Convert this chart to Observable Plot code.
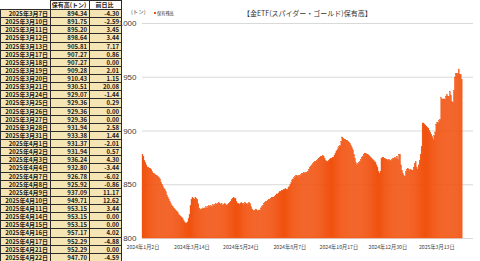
<!DOCTYPE html>
<html><head><meta charset="utf-8">
<script src="https://cdn.jsdelivr.net/npm/d3@7"></script>
<script src="https://cdn.jsdelivr.net/npm/@observablehq/plot@0.6"></script>
<style>
body{margin:0;width:480px;height:261px;overflow:hidden;background:#fff;position:relative;font-family:"Noto Sans CJK JP","Noto Sans",sans-serif;}
.cell{position:absolute;box-sizing:border-box;font-size:6px;line-height:7.5px;text-align:right;white-space:nowrap;overflow:hidden;color:#1a1a1a;font-weight:bold;padding-right:2px;}
#chart{position:absolute;left:121px;top:0;width:359px;height:261px;}
#chart svg{position:absolute;left:0;top:0;}
.lbl{position:absolute;white-space:nowrap;color:#404040;}
</style></head>
<body>
<div id="tbl"></div>
<div id="chart"></div>
<script>
// ---- data ----
const tableDates = ["2025年3月7日","2025年3月10日","2025年3月11日","2025年3月12日","2025年3月13日","2025年3月17日","2025年3月18日","2025年3月19日","2025年3月20日","2025年3月21日","2025年3月24日","2025年3月25日","2025年3月26日","2025年3月27日","2025年3月28日","2025年3月31日","2025年4月1日","2025年4月2日","2025年4月3日","2025年4月4日","2025年4月7日","2025年4月8日","2025年4月9日","2025年4月10日","2025年4月11日","2025年4月14日","2025年4月15日","2025年4月16日","2025年4月17日","2025年4月21日","2025年4月22日"];
const tableHold = [894.34,891.75,895.20,898.64,905.81,907.27,907.27,909.28,910.43,930.51,929.07,929.36,929.36,929.36,931.94,933.38,931.37,931.94,936.24,932.80,926.78,925.92,937.09,949.71,953.15,953.15,953.15,957.17,952.29,952.29,947.70];
const tableChg = [-4.30,-2.59,3.45,3.44,7.17,0.86,0.00,2.01,1.15,20.08,-1.44,0.29,0.00,0.00,2.58,1.44,-2.01,0.57,4.30,-3.44,-6.02,-0.86,11.17,12.62,3.44,0.00,0.00,4.02,-4.88,0.00,-4.59];
const earlierHold = [
878,876,872,870,868,866,866,865,865,864,862,860,860,859,858,858,857,856,
855,852,850,848,846,845,843,
840,838,836,834,832,830,829,828,827,826,825,
824,822,821,820,819,818,816,815,814,814,
815,818,822,
830,836,838,837,836,838,837,836,
832,828,826,
827,827,828,827,828,829,828,829,830,829,
830,829,831,830,831,832,831,832,
833,832,831,832,830,831,832,831,830,831,
832,833,834,836,837,838,837,837,
834,832,832,
831,832,833,832,831,832,833,832,831,832,833,832,
829,827,826,
825,826,827,826,825,826,826,
828,829,830,832,833,834,834,
835,836,836,837,838,838,838,
839,840,841,841,842,843,843,
844,844,845,845,846,845,845,
847,848,850,852,854,855,856,857,858,858,
857,858,858,859,860,860,861,860,861,861,
862,864,866,867,868,869,870,871,871,
872,873,874,875,876,876,877,876,
874,872,871,871,
872,873,874,874,875,875,
877,879,881,882,884,885,886,
890,894,
893,892,892,891,891,
890,889,888,
886,884,882,
878,874,870,868,
869,870,871,
873,875,876,878,879,879,
878,878,877,876,875,
874,873,872,871,870,
868,866,862,860,
862,874,875,875,
874,874,873,873,872,873,872,
872,873,874,874,875,
874,876,873,878,878,
868,863,
860,858,857,
862,864,865,
864,863,864,863,863,
866,869,871,
866,864,
868,872,878,885,
907,907,906,905,904,903,902,900,898,896];
const tickLabels = ["2024年1月2日","2024年3月14日","2024年5月24日","2024年8月7日","2024年10月17日","2024年12月30日","2025年3月13日"];
const tickIndex = [0,50,100,150,200,250,300];
const yTicks = [800,850,900,950,1000];
const seriesName = "保有残高";
const title = "【金ETF(スパイダー・ゴールド)保有高】";
const unit = "(トン)";

// ---- table ----
const tbl = document.getElementById("tbl");
function cell(x0,x1,y0,h,text,opts={}){
  const d=document.createElement("div");d.className="cell";
  d.style.left=x0+"px";d.style.top=y0+"px";d.style.width=(x1-x0+1)+"px";d.style.height=(h+1)+"px";
  d.style.border="1px solid #2b2b2b";
  d.style.background=opts.bg||"#f5e5b5";
  if(opts.align)d.style.textAlign=opts.align;
  d.textContent=text;tbl.appendChild(d);
}
cell(50,89,0,9,"保有高(トン)",{bg:"#fff",align:"center"});
cell(89,121,0,9,"前日比",{bg:"#fff",align:"center"});
const rh=(261-9)/tableDates.length;
tableDates.forEach((dt,r)=>{
  const y=9+r*rh;
  cell(0,50,y,rh,dt);
  cell(50,89,y,rh,tableHold[r].toFixed(2));
  cell(89,121,y,rh,tableChg[r].toFixed(2));
});

// ---- chart ----
const values = earlierHold.concat(tableHold);
const bars = values.map((v,i)=>({i,v}));
const ticks = tickIndex.map((i,k)=>({x:i+0.5,label:tickLabels[k]}));
const chart = Plot.plot({
  width:359,height:261,
  marginLeft:21,marginRight:7,marginTop:23,marginBottom:23,
  style:{background:"transparent",overflow:"visible",fontFamily:"'Liberation Sans Narrow','Liberation Sans',Arial,sans-serif",fontSize:"8px",color:"#404040"},
  x:{type:"linear",domain:[0,338],axis:null},
  y:{domain:[800,1000],axis:null},
  marks:[
    Plot.ruleY(yTicks,{stroke:"#d9d9d9",strokeWidth:1}),
    Plot.rect(bars,{x1:"i",x2:d=>d.i+1,y1:800,y2:"v",fill:"#ef4c0c",stroke:"#f35a14",strokeWidth:0.3}),
    Plot.axisY(yTicks,{tickSize:0,tickPadding:6,tickFormat:d=>String(d),fontSize:8,fill:"#404040",label:null}),
    Plot.text(ticks,{x:"x",y:800,text:"label",dy:9,fontSize:5.2,fill:"#404040",fontFamily:"'Noto Sans CJK JP',sans-serif"})
  ]
});
document.getElementById("chart").appendChild(chart);
function lbl(text,left,top,size,extra={}){
  const s=document.createElement("div");s.className="lbl";s.textContent=text;
  s.style.left=left+"px";s.style.top=top+"px";s.style.fontSize=size+"px";
  Object.assign(s.style,extra);document.body.appendChild(s);return s;
}
lbl(title,243,8,7,{color:"#333"});
lbl(unit,131,8,5.5,{color:"#404040"});
lbl(seriesName,157,10,4.2,{color:"#333"});
const sq=document.createElement("div");
Object.assign(sq.style,{position:"absolute",left:"154px",top:"12px",width:"2px",height:"2px",background:"#ef4c0c"});
document.body.appendChild(sq);
</script>
</body></html>
